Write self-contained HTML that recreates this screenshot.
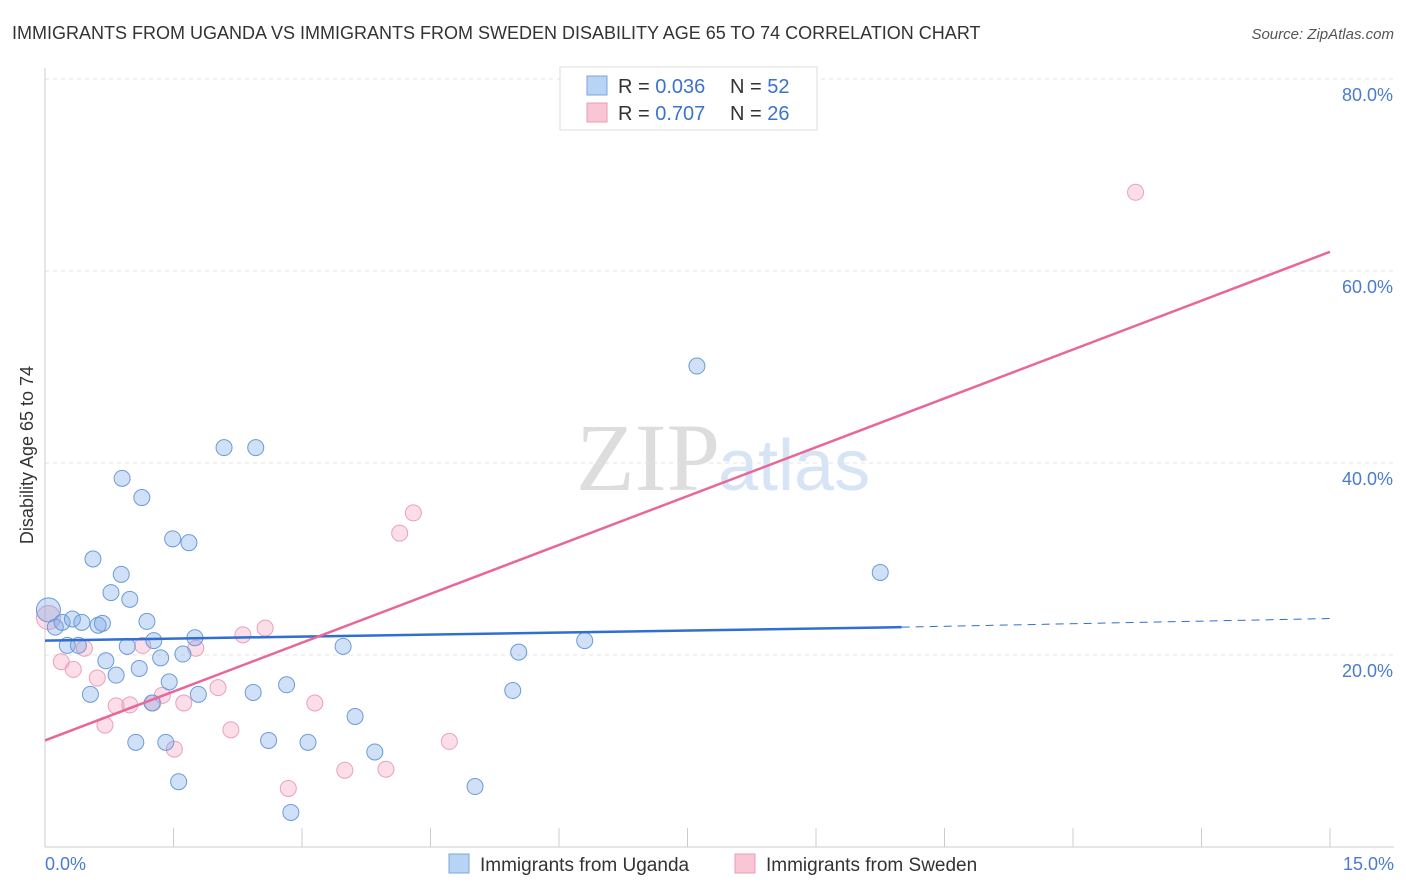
<!DOCTYPE html>
<html><head><meta charset="utf-8"><style>
body{margin:0;background:#fff;font-family:"Liberation Sans",sans-serif}
svg{display:block}
</style></head><body>
<svg id="c" width="1406" height="892">
<text x="12" y="39" font-size="18" fill="#333">IMMIGRANTS FROM UGANDA VS IMMIGRANTS FROM SWEDEN DISABILITY AGE 65 TO 74 CORRELATION CHART</text>
<text x="1394" y="39" font-size="15" fill="#555" font-style="italic" text-anchor="end">Source: ZipAtlas.com</text>
<text x="720" y="490" font-size="96" fill="#ddd" text-anchor="end" font-family="Liberation Serif,serif">ZIP</text>
<text x="718" y="490" font-size="72" fill="#d6e4f5">atlas</text>
<g id="grid"></g><g id="axes"></g><g id="marks"></g>
<text transform="translate(33,455) rotate(-90)" font-size="18" fill="#333" text-anchor="middle">Disability Age 65 to 74</text>
<text x="45" y="870" font-size="18" fill="#4a7bd0">0.0%</text>
<text x="1394" y="870" font-size="18" fill="#4a7bd0" text-anchor="end">15.0%</text>
<g>
<rect x="560" y="67" width="257" height="63" fill="#fff" stroke="#ddd"/>
<rect x="587" y="76" width="20" height="19" fill="#b9d3f5" stroke="#7aa6e0"/>
<rect x="587" y="103" width="20" height="19" fill="#f9c6d5" stroke="#eb9ab4"/>
<text x="618" y="93" font-size="20" fill="#333">R = <tspan fill="#3b73cc">0.036</tspan><tspan x="730">N = </tspan><tspan fill="#3b73cc">52</tspan></text>
<text x="618" y="120" font-size="20" fill="#333">R = <tspan fill="#3b73cc">0.707</tspan><tspan x="730">N = </tspan><tspan fill="#3b73cc">26</tspan></text>
</g>
<g>
<rect x="449" y="854" width="20" height="19" fill="#b9d3f5" stroke="#7aa6e0"/>
<text x="480" y="871" font-size="19" fill="#333">Immigrants from Uganda</text>
<rect x="735" y="854" width="20" height="19" fill="#f9c6d5" stroke="#eb9ab4"/>
<text x="766" y="871" font-size="19" fill="#333">Immigrants from Sweden</text>
</g>
</svg>
<script>
const yTicks=[20,40,60,80];
const yTickLabels=["20.0%","40.0%","60.0%","80.0%"];
const xTicks=[0,1.5,3,4.5,6,7.5,9,10.5,12,13.5,15];
const ugandaX=[0.04,0.12,0.2,0.32,0.43,0.62,0.67,0.26,0.39,0.56,0.89,0.77,0.99,1.19,0.96,1.27,1.75,1.61,1.35,1.10,0.71,0.83,0.53,1.45,1.25,1.79,2.43,2.82,3.48,0.90,1.13,1.49,1.68,2.09,2.46,1.06,1.41,1.56,2.61,3.07,3.62,3.85,2.87,5.02,5.46,5.53,6.30,7.61,9.75];
const ugandaY=[24.7,22.9,23.4,23.75,23.4,23.1,23.3,21.0,21.0,30.0,28.4,26.5,25.8,23.5,20.9,21.5,21.8,20.1,19.7,18.6,19.4,17.9,15.9,17.2,15.0,15.9,16.1,16.9,20.9,38.4,36.4,32.1,31.7,41.6,41.6,10.9,10.9,6.8,11.1,10.9,13.6,9.9,3.6,6.3,16.3,20.3,21.5,50.1,28.6];
const swedenX=[0.04,0.19,0.33,0.46,0.61,0.70,0.83,0.99,1.14,1.37,1.26,1.51,1.62,1.76,2.02,2.17,2.31,2.57,2.84,3.15,3.50,3.98,4.14,4.30,4.72,12.73];
const swedenY=[23.9,19.3,18.5,20.7,17.6,12.7,14.7,14.8,21.0,15.8,15.0,10.2,15.0,20.7,16.6,12.2,22.1,22.8,6.1,15.0,8.0,8.1,32.7,34.8,11.0,68.2];
const ugandaTrend=[[0,21.5],[10,22.9],[15,23.8]];
const swedenTrend=[[0,11.1],[15,62.0]];
const X=v=>45+v*(1285/15), Y=v=>847-v*9.6;
const NS="http://www.w3.org/2000/svg";
function mk(t,a,p){const e=document.createElementNS(NS,t);for(const k in a)e.setAttribute(k,a[k]);p.appendChild(e);return e;}
const grid=document.getElementById('grid'),axes=document.getElementById('axes'),marks=document.getElementById('marks');
yTicks.forEach((t,i)=>{
 const l=mk('line',{x1:45,x2:1394,y1:Y(t),y2:Y(t),stroke:'#e3e3e3','stroke-dasharray':'4,4'},grid);
 
 
 const tx=mk('text',{x:1393,y:Y(t)+22,'font-size':18,fill:'#4a7bd0','text-anchor':'end'},axes);
 tx.textContent=yTickLabels[i];
 
 
});
const ax=mk('line',{x1:45,x2:1394,y1:847,y2:847,stroke:'#ccc'},axes);


const ay=mk('line',{x1:45,x2:45,y1:68,y2:847,stroke:'#ccc'},axes);


xTicks.forEach(t=>{
 const l=mk('line',{x1:X(t),x2:X(t),y1:828,y2:847,stroke:'#ccc'},axes);
 
 
});
function pts(xs,ys,fill,stroke,name){
 xs.forEach((x,i)=>{
  const r=i===0?12:8;
  const c=mk('circle',{cx:X(x),cy:Y(ys[i]),r:r,fill:fill,stroke:stroke,'stroke-width':1},marks);
  
  
 });
}
pts(swedenX,swedenY,'rgba(244,160,188,0.35)','#eba0ba','point-sweden');
pts(ugandaX,ugandaY,'rgba(120,165,230,0.35)','#6c9bd8','point-uganda');
const b1=mk('line',{x1:X(ugandaTrend[0][0]),y1:Y(ugandaTrend[0][1]),x2:X(ugandaTrend[1][0]),y2:Y(ugandaTrend[1][1]),stroke:'#2f6fd0','stroke-width':2.5},marks);


const b2=mk('line',{x1:X(ugandaTrend[1][0]),y1:Y(ugandaTrend[1][1]),x2:X(ugandaTrend[2][0]),y2:Y(ugandaTrend[2][1]),stroke:'#2f6fd0','stroke-width':1,'stroke-dasharray':'8,6'},marks);


const p1=mk('line',{x1:X(swedenTrend[0][0]),y1:Y(swedenTrend[0][1]),x2:X(swedenTrend[1][0]),y2:Y(swedenTrend[1][1]),stroke:'#e8679a','stroke-width':2.5},marks);


</script>
</body></html>
